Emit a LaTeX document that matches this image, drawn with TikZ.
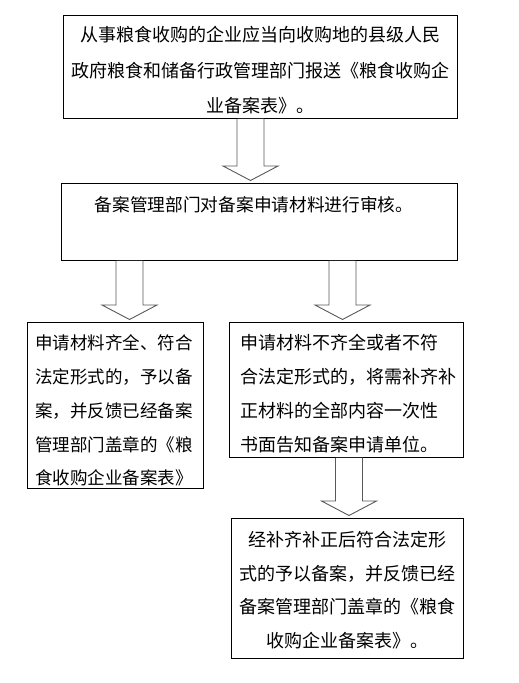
\documentclass[tikz,border=0pt]{standalone}
\usepackage{fontspec}
\newfontfamily\cjk{Noto Sans CJK SC}
\usetikzlibrary{calc}
\tikzset{
  box/.style={draw=black, line width=0.9pt, rectangle, inner sep=0pt, anchor=north west},
  txt/.style={inner sep=0pt, text=black},
  blk/.style={draw=black!65, line width=0.9pt, fill=white, line join=miter},
}
% #1 from node, #2 to node, #3 centre x
\newcommand\blockarr[3]{%
  \draw[blk] let \p1=(#1.south), \p2=(#2.north) in
    ({#3-13.5pt},\y1) -- ({#3-13.5pt},\y2+17pt) -- ({#3-27.5pt},\y2+17pt) --
    ({#3*1pt},\y2+2.5pt) -- ({#3+27.5pt},\y2+17pt) -- ({#3+13.5pt},\y2+17pt) --
    ({#3+13.5pt},\y1);}
\begin{document}
\begin{tikzpicture}[x=1pt,y=-1pt]
\useasboundingbox (0,0) rectangle (519,683);
\node[box, minimum width=394pt, minimum height=103pt] (b1) at (63,15) {};
\node[box, minimum width=396pt, minimum height=77pt] (b2) at (61,183) {};
\node[box, minimum width=176pt, minimum height=166pt] (b3) at (27,322) {};
\node[box, minimum width=234pt, minimum height=135pt] (b4) at (229,322) {};
\node[box, minimum width=232pt, minimum height=140pt] (b5) at (231,518) {};

\node[txt, align=center, font={\cjk\fontsize{18pt}{35.5pt}\selectfont}] (t1) at (260,70.5)
  {从事粮食收购的企业应当向收购地的县级人民\\政府粮食和储备行政管理部门报送《粮食收购企\\业备案表》。};
\node[txt, align=center, font={\cjk\fontsize{17.7pt}{34pt}\selectfont}] (t2) at (254,205)
  {备案管理部门对备案申请材料进行审核。};
\node[txt, align=left, anchor=west, font={\cjk\fontsize{17.5pt}{33.8pt}\selectfont}] (t3) at (35,410.5)
  {申请材料齐全、符合\\法定形式的，予以备\\案，并反馈已经备案\\管理部门盖章的《粮\\食收购企业备案表》};
\node[txt, align=left, anchor=west, font={\cjk\fontsize{18pt}{34pt}\selectfont}] (t4) at (240,394)
  {申请材料不齐全或者不符\\合法定形式的，将需补齐补\\正材料的全部内容一次性\\书面告知备案申请单位。};
\node[txt, align=center, font={\cjk\fontsize{18pt}{33.5pt}\selectfont}] (t5) at (347,590)
  {经补齐补正后符合法定形\\式的予以备案，并反馈已经\\备案管理部门盖章的《粮食\\收购企业备案表》。};

\blockarr{b1}{b2}{250.5}
\blockarr{b2}{b3}{129.5}
\blockarr{b2}{b4}{342.5}
\blockarr{b4}{b5}{349}
\end{tikzpicture}
\end{document}
